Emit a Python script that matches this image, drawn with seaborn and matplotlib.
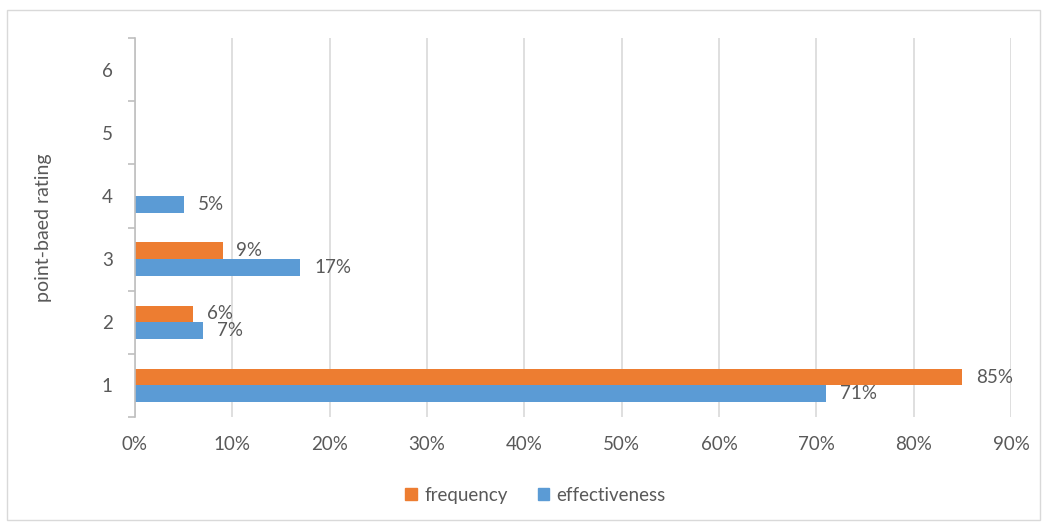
import matplotlib
matplotlib.use("Agg")
import matplotlib.pyplot as plt
import matplotlib.patches as mpatches
from matplotlib.ticker import FixedLocator, PercentFormatter
import seaborn as sns
import pandas as pd

ratings = ["6", "5", "4", "3", "2", "1"]
frequency = [0, 0, 0, 9, 6, 85]
effectiveness = [0, 0, 5, 17, 7, 71]
series = ["frequency", "effectiveness"]
colors = ["#ED7D31", "#5B9BD5"]
xticks = [0, 10, 20, 30, 40, 50, 60, 70, 80, 90]

sns.set_theme(style="white")
plt.rcParams["font.family"] = ["Lato", "DejaVu Sans"]
TXT = "#595959"
FS = 13.5

rows = []
for r, f, e in zip(ratings, frequency, effectiveness):
    rows.append({"rating": r, "series": "frequency", "value": f})
    rows.append({"rating": r, "series": "effectiveness", "value": e})
df = pd.DataFrame(rows)

fig = plt.figure(figsize=(10.48, 5.25), dpi=100)
ax = fig.add_axes([0.1288, 0.2057, 0.836, 0.7219])

sns.barplot(data=df, x="value", y="rating", hue="series", order=ratings,
            hue_order=series, palette=colors, orient="h", width=0.53,
            saturation=1, ax=ax, legend=False, errorbar=None, linewidth=0)

# value labels
for cont in ax.containers:
    labels = [f"{v:.0f}%" if v > 0 else "" for v in cont.datavalues]
    ax.bar_label(cont, labels=labels, padding=10, fontsize=FS, color=TXT)

ax.set_xlim(0, 90)
ax.set_ylim(5.5, -0.5)
ax.set_xticks(xticks)
ax.xaxis.set_major_formatter(PercentFormatter(decimals=0))
ax.grid(axis="x", color="#D9D9D9", linewidth=1.2)
ax.set_axisbelow(True)

for s in ["top", "right", "bottom"]:
    ax.spines[s].set_visible(False)
ax.spines["left"].set_color("#BFBFBF")
ax.spines["left"].set_linewidth(1.2)

ax.tick_params(axis="x", length=0, pad=14, labelsize=FS, labelcolor=TXT)
ax.tick_params(axis="y", which="major", length=0, pad=16, labelsize=FS, labelcolor=TXT)
ax.yaxis.set_minor_locator(FixedLocator([i - 0.5 for i in range(len(ratings) + 1)]))
ax.tick_params(axis="y", which="minor", left=True, length=5, width=1.2, color="#BFBFBF")

ax.set_xlabel("")
ax.set_ylabel("point-baed rating", fontsize=FS + 0.5, color=TXT, labelpad=36)

handles = [mpatches.Patch(color=c, label=s) for s, c in zip(series, colors)]
fig.legend(handles=handles, loc="center", bbox_to_anchor=(0.511, 0.057), ncol=2,
           frameon=False, fontsize=FS, labelcolor=TXT, handlelength=0.6,
           handleheight=0.6, handletextpad=0.4, columnspacing=1.6)

fig.patches.append(mpatches.Rectangle((7 / 1048, 5 / 525), 1033 / 1048, 510 / 525,
                                      transform=fig.transFigure, fill=False,
                                      edgecolor="#D9D9D9", linewidth=1))

fig.savefig("out.png", dpi=100)
